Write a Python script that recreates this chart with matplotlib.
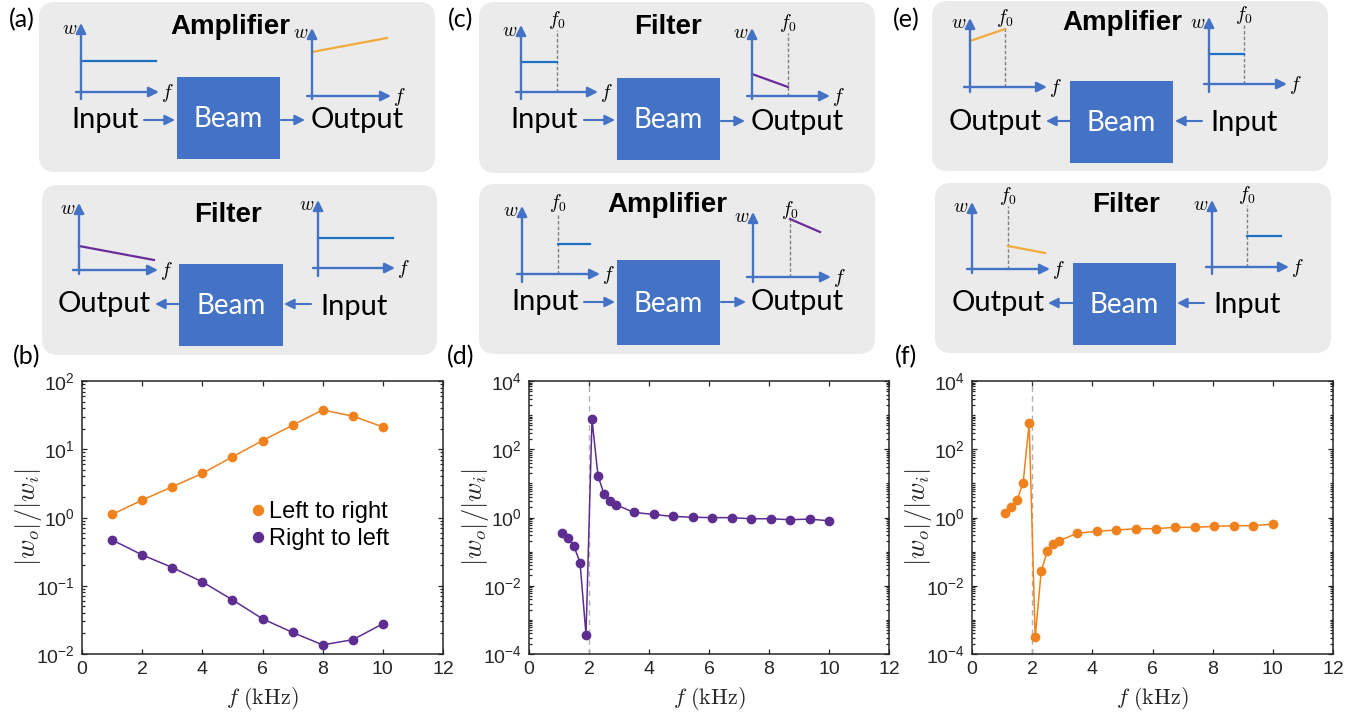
import numpy as np
import matplotlib
matplotlib.use("Agg")
import matplotlib.pyplot as plt
from matplotlib.patches import FancyBboxPatch, Rectangle
from matplotlib.ticker import FixedLocator, LogLocator, NullFormatter, FuncFormatter

# ---- data ----
f_b = [1, 2, 3, 4, 5, 6, 7, 8, 9, 10]
left_to_right = [1.11, 1.80, 2.82, 4.42, 7.75, 13.4, 22.5, 37.7, 30.5, 21.3]
right_to_left = [0.469, 0.283, 0.185, 0.114, 0.0622, 0.0328, 0.0207, 0.0136, 0.0162, 0.0277]

f_sweep = [1.1, 1.3, 1.5, 1.7, 1.9, 2.1, 2.3, 2.5, 2.7, 2.9,
           3.5, 4.15, 4.8, 5.45, 6.1, 6.75, 7.4, 8.05, 8.7, 9.35, 10]
ratio_d = [0.36, 0.245, 0.143, 0.048, 3.7e-4, 758, 16.6, 4.9, 3.0, 2.36,
           1.41, 1.23, 1.07, 1.02, 0.99, 0.99, 0.92, 0.92, 0.86, 0.90, 0.80]
ratio_f = [1.38, 2.0, 3.3, 10.5, 575, 3.1e-4, 0.0266, 0.102, 0.164, 0.209,
           0.345, 0.394, 0.43, 0.47, 0.47, 0.515, 0.515, 0.55, 0.575, 0.575, 0.645]
f0 = 2.0

# ---- styles ----
ORANGE = "#F0821E"
PURPLE = "#5E2D91"
BLUE = "#4472C4"
SK_BLUE = "#1F70C4"
SK_ORANGE = "#F2AA3A"
SK_PURPLE = "#6A2C9A"
GRAY_BOX = "#EBEBEB"
INK = "#262626"

plt.rcParams["font.family"] = ["Liberation Sans", "DejaVu Sans"]
plt.rcParams["mathtext.fontset"] = "cm"

W, H = 1371, 717
fig = plt.figure(figsize=(W / 100, H / 100), dpi=100)

# overlay in pixel coordinates for the schematics
ov = fig.add_axes([0, 0, 1, 1])
ov.set_xlim(0, W)
ov.set_ylim(H, 0)
ov.axis("off")


def arrow(x0, y0, x1, y1, lw=1.5, ms=15):
    ov.annotate("", xy=(x1, y1), xytext=(x0, y0),
                arrowprops=dict(arrowstyle="-|>,head_length=0.4,head_width=0.2",
                                color=BLUE, lw=lw, shrinkA=0, shrinkB=0,
                                mutation_scale=ms))


def gray_box(x0, y0, x1, y1):
    ov.add_patch(FancyBboxPatch((x0, y0), x1 - x0, y1 - y0,
                                boxstyle="round,pad=0,rounding_size=16",
                                fc=GRAY_BOX, ec="none"))


def beam(x0, y0, x1, y1):
    ov.add_patch(Rectangle((x0, y0), x1 - x0, y1 - y0, fc=BLUE, ec="none"))
    ov.text((x0 + x1) / 2, (y0 + y1) / 2 + 1, "Beam", color="white", fontsize=20,
            family="Lato", ha="center", va="center")


def word(x, y, s):
    ov.text(x, y, s, fontsize=21, family="Lato", ha="center", va="center", color="black")


def title(x, y, s):
    ov.text(x, y, s, fontsize=20, fontweight="bold", ha="center", va="center", color="black")


def mini(vx, vb, vt, hy, hl, hr, p1, p2, col, fx=None, dt=None):
    arrow(vx, vb, vx, vt, lw=1.7)
    arrow(hl, hy, hr, hy, lw=1.7)
    if fx is not None:
        ov.plot([fx, fx], [hy, dt], color="#808080", lw=1.0, ls=(0, (2.5, 1.5)))
        ov.text(fx, dt - 10, r"$f_0$", fontsize=14, ha="center", va="center")
    ov.plot([p1[0], p2[0]], [p1[1], p2[1]], color=col, lw=1.6)
    ov.text(vx - 11, vt + 6, r"$w$", fontsize=14, ha="center", va="center")
    ov.text(hr + 8, hy + 1, r"$f$", fontsize=14, ha="center", va="center")


# (a)
gray_box(39, 2, 435, 172)
title(230, 27, "Amplifier")
mini(81, 99, 23, 92, 76, 159, (81, 61), (156, 61), SK_BLUE)
mini(312, 99, 28, 96, 307, 391, (312, 52), (387, 38), SK_ORANGE)
beam(177, 77, 280, 159)
word(105, 120, "Input")
arrow(144, 120, 175, 120)
arrow(281, 120, 305, 120)
word(357, 120, "Output")

gray_box(42, 185, 437, 355)
title(228, 215, "Filter")
mini(79, 274, 203, 270, 73, 158, (79, 246), (154, 260), SK_PURPLE)
mini(318, 276, 200, 268, 313, 395, (318, 238), (393, 238), SK_BLUE)
beam(179, 264, 283, 346)
word(104, 304, "Output")
arrow(179, 304, 155, 304)
word(354, 307, "Input")
arrow(311, 304, 284, 304)

# (c)
gray_box(479, 2, 875, 173)
title(668, 27, "Filter")
mini(521, 99, 25, 92, 516, 598, (521, 62), (557, 62), SK_BLUE, 557, 30)
mini(752, 99, 28, 96, 747, 830, (752, 74), (788, 87), SK_PURPLE, 788, 33)
beam(617, 78, 720, 160)
word(544, 120, "Input")
arrow(584, 120, 615, 120)
arrow(721, 121, 745, 121)
word(797, 122, "Output")

gray_box(479, 184, 875, 354)
title(667, 205, "Amplifier")
mini(522, 282, 206, 274, 517, 600, (558, 244), (590, 244), SK_BLUE, 558, 213)
mini(753, 282, 212, 277, 747, 831, (790, 219), (820, 232), SK_PURPLE, 790, 220)
beam(617, 260, 720, 345)
word(545, 302, "Input")
arrow(584, 302, 615, 302)
arrow(721, 302, 746, 302)
word(797, 302, "Output")

# (e)
gray_box(932, 1, 1328, 171)
title(1122, 23, "Amplifier")
mini(970, 92, 18, 87, 964, 1047, (970, 41), (1005, 29), SK_ORANGE, 1005, 28)
mini(1209, 92, 17, 84, 1204, 1287, (1209, 54), (1244, 54), SK_BLUE, 1244, 25)
beam(1070, 81, 1173, 163)
word(995, 122, "Output")
arrow(1070, 121, 1046, 121)
word(1244, 123, "Input")
arrow(1202, 121, 1175, 121)

gray_box(935, 183, 1331, 353)
title(1126, 205, "Filter")
mini(972, 273, 202, 269, 967, 1050, (1008, 246), (1045, 253), SK_ORANGE, 1008, 206)
mini(1212, 274, 200, 267, 1206, 1289, (1247, 236), (1281, 236), SK_BLUE, 1247, 205)
beam(1073, 263, 1176, 345)
word(998, 303, "Output")
arrow(1073, 303, 1048, 303)
word(1247, 305, "Input")
arrow(1204, 303, 1177, 303)

# panel letters
for x, y, s in [(22, 20, "(a)"), (27, 357, "(b)"), (461, 20, "(c)"),
                (461, 357, "(d)"), (906, 20, "(e)"), (906, 357, "(f)")]:
    ov.text(x, y, s, fontsize=18, family="Lato", ha="center", va="center")


# ---- the three response plots ----
def sci(v, pos):
    return r"$\mathregular{10^{%d}}$" % int(round(np.log10(v)))


def style_axes(ax, ymin, ymax, majors):
    ax.set_yscale("log")
    ax.set_xlim(0, 12)
    ax.set_ylim(ymin, ymax)
    ax.set_xticks([0, 2, 4, 6, 8, 10, 12])
    ax.yaxis.set_major_locator(FixedLocator(majors))
    ax.yaxis.set_major_formatter(FuncFormatter(sci))
    ax.yaxis.set_minor_locator(LogLocator(base=10, subs=np.arange(1, 10), numticks=100))
    ax.yaxis.set_minor_formatter(NullFormatter())
    ax.tick_params(which="both", direction="in", top=True, right=True,
                   colors=INK, labelsize=14, width=0.9)
    ax.tick_params(which="major", length=3.5, pad=5)
    ax.tick_params(which="minor", length=2)
    for sp in ax.spines.values():
        sp.set_color(INK)
        sp.set_linewidth(1.1)
    ax.set_facecolor("none")
    ax.set_ylabel(r"$|w_o|/|w_i|$", fontsize=19, color=INK)
    ax.yaxis.set_label_coords(-0.105, 0.5)
    ax.set_xlabel(r"$f\ (\mathrm{kHz})$", fontsize=16, color=INK, va="top")
    ax.xaxis.set_label_coords(0.5, -0.112)


fy = 1 - 654 / H
fh = 273 / H

ax_b = fig.add_axes([82 / W, fy, 361 / W, fh])
ax_b.plot(f_b, left_to_right, "-o", color=ORANGE, lw=1.1, ms=6, label="Left to right")
ax_b.plot(f_b, right_to_left, "-o", color=PURPLE, lw=1.1, ms=6, label="Right to left")
style_axes(ax_b, 1e-2, 1e2, [1e-2, 1e-1, 1e0, 1e1, 1e2])
leg = ax_b.legend(loc="center left", bbox_to_anchor=(0.445, 0.47), frameon=False,
                  fontsize=17, handlelength=0.5, handletextpad=0.2, labelspacing=0.2,
                  borderaxespad=0, markerscale=1.2)
for h in leg.legend_handles:
    h.set_linestyle("none")

ax_d = fig.add_axes([529 / W, fy, 360 / W, fh])
ax_d.axvline(f0, color="#B0B0B0", lw=1.0, ls=(0, (4, 3)))
ax_d.plot(f_sweep, ratio_d, "-o", color=PURPLE, lw=1.1, ms=6)
style_axes(ax_d, 1e-4, 1e4, [1e-4, 1e-2, 1e0, 1e2, 1e4])

ax_f = fig.add_axes([972 / W, fy, 361 / W, fh])
ax_f.axvline(f0, color="#B0B0B0", lw=1.0, ls=(0, (4, 3)))
ax_f.plot(f_sweep, ratio_f, "-o", color=ORANGE, lw=1.1, ms=6)
style_axes(ax_f, 1e-4, 1e4, [1e-4, 1e-2, 1e0, 1e2, 1e4])

fig.savefig("out.png", dpi=100)
